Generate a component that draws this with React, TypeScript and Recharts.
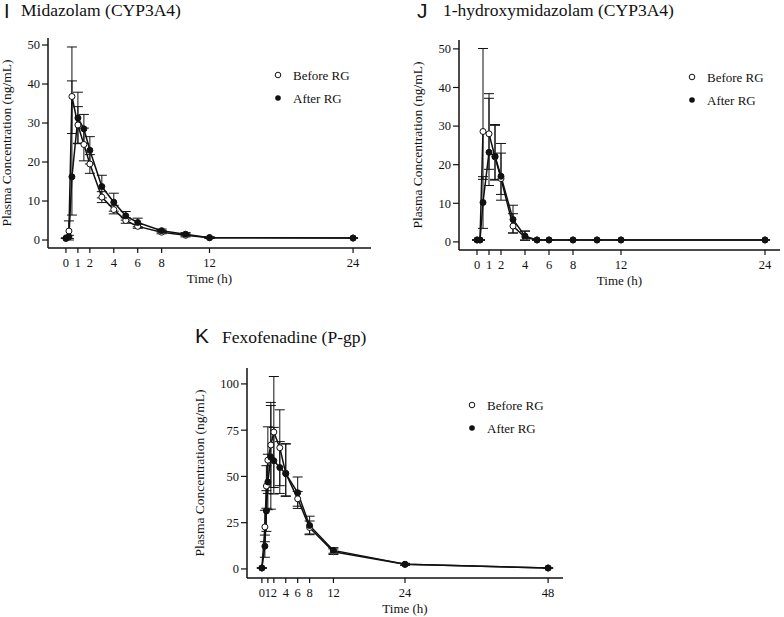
import React from 'react';
import { LineChart, Line, XAxis, YAxis, ErrorBar, Legend } from 'recharts';

// time points (h)
const midazolamTime = [0, 0.25, 0.5, 1, 1.5, 2, 3, 4, 5, 6, 8, 10, 12, 24];
const midazolamBefore = [0.5, 2.3, 36.8, 29.5, 24.5, 19.5, 11, 7.8, 5, 3.5, 2, 1.2, 0.6, 0.5];
const midazolamAfter = [0.4, 0.8, 16.2, 31.3, 28.5, 23, 13.7, 9.7, 6.2, 4.5, 2.4, 1.5, 0.6, 0.5];
const midazolamBeforeErr = [[0, 0], [2.3, 2.6], [9.5, 12.7], [4.7, 4.7], [4.2, 4.2], [2.4, 2.4], [1.4, 1.4], [1.1, 1.1], [0.7, 0.7], [0.5, 0.5], [0.4, 0.4], [0.4, 0.4], [0.2, 0.2], [0, 0]];
const midazolamAfterErr = [[0, 0], [0.4, 0.4], [9.8, 24.6], [6.6, 6.6], [3.7, 3.7], [3.5, 3.5], [2.9, 2.9], [2.3, 2.3], [1.1, 1.1], [1.1, 1.1], [0.4, 0.4], [0.4, 0.4], [0.2, 0.2], [0, 0]];

const hydroxyTime = [0, 0.25, 0.5, 1, 1.5, 2, 3, 4, 5, 6, 8, 10, 12, 24];
const hydroxyBefore = [0.5, 0.5, 28.6, 28, 22, 16.4, 4.1, 1.2, 0.5, 0.5, 0.5, 0.5, 0.5, 0.5];
const hydroxyAfter = [0.5, 0.5, 10.2, 23.2, 22.2, 17, 5.8, 1.5, 0.5, 0.5, 0.5, 0.5, 0.5, 0.5];
const hydroxyBeforeErr = [[0, 0], [0, 0], [12.4, 21.5], [9.2, 9.2], [6, 8.2], [4.1, 6.6], [1.8, 3.2], [0.8, 1.6], [0, 0], [0, 0], [0, 0], [0, 0], [0, 0], [0, 0]];
const hydroxyAfterErr = [[0, 0], [0, 0], [6.7, 6.7], [8.6, 15.2], [6, 8.2], [6.2, 8.5], [3.5, 3.7], [1, 1.3], [0, 0], [0, 0], [0, 0], [0, 0], [0, 0], [0, 0]];

const fexoTime = [0, 0.5, 0.75, 1, 1.5, 2, 3, 4, 6, 8, 12, 24, 48];
const fexoBefore = [0.5, 22.7, 44.8, 58.8, 67, 74, 65.5, 51.7, 37.9, 22.4, 9.3, 2.5, 0.5];
const fexoAfter = [0.5, 12.3, 31.3, 47, 60.3, 58.5, 54.8, 51.5, 41.2, 23.5, 10, 2.5, 0.5];
const fexoBeforeErr = [[0, 0], [8, 9], [12, 11], [18, 18], [23, 23], [30, 30], [20.5, 20.5], [12.5, 16], [4, 4], [3.5, 3.5], [1.5, 1.5], [0.5, 0.5], [0, 0]];
const fexoAfterErr = [[0, 0], [6, 6], [11, 11], [15, 15], [28, 28], [18, 18], [14, 14], [12, 16], [8.5, 8.5], [5, 5], [1.5, 1.5], [0.5, 0.5], [0, 0]];

const hourTicks = [0, 1, 2, 4, 6, 8, 12, 24];
const fexoHourTicks = [0, 1, 2, 4, 6, 8, 12, 24, 48];
const concTicks = [0, 10, 20, 30, 40, 50];
const fexoConcTicks = [0, 25, 50, 75, 100];

const SERIF = '"Liberation Serif", "Times New Roman", serif';
const SANS = '"Liberation Sans", Arial, sans-serif';
const INK = '#111';

const buildRows = (t: number[], b: number[], a: number[], be: number[][], ae: number[][]) =>
  t.map((time, i) => ({ t: time, before: b[i], after: a[i], beforeErr: be[i], afterErr: ae[i] }));

const XTick = (props: any) => (
  <text x={props.x} y={props.y} dy="0.71em" textAnchor="middle" fontFamily={SERIF} fontSize={12.5} fill={INK}>
    {props.payload.value}
  </text>
);

const YTick = (props: any) => (
  <text x={props.x} y={props.y} dy="0.35em" textAnchor="end" fontFamily={SERIF} fontSize={12.5} fill={INK}>
    {props.payload.value}
  </text>
);

const LegendBox = () => (
  <svg width={90} height={42} style={{ display: 'block' }}>
    <circle cx={6} cy={7} r={2.8} fill="#fff" stroke={INK} strokeWidth={1} />
    <text x={21} y={11.5} fontFamily={SERIF} fontSize={13} fill={INK}>Before RG</text>
    <circle cx={6} cy={30} r={2.8} fill={INK} />
    <text x={21} y={34.5} fontFamily={SERIF} fontSize={13} fill={INK}>After RG</text>
  </svg>
);

interface PanelProps {
  rows: any[];
  left: number;
  top: number;
  width: number;
  height: number;
  margin: { top: number; right: number; bottom: number; left: number };
  xDomain: [number, number];
  xTicks: number[];
  yDomain: [number, number];
  yTicks: number[];
  yLabelGap: number;
  legendLeft: number;
  legendTop: number;
}

const Panel: React.FC<PanelProps> = (p) => (
  <div style={{ position: 'absolute', left: p.left, top: p.top }}>
    <LineChart width={p.width} height={p.height} data={p.rows} margin={p.margin}>
      <XAxis
        dataKey="t"
        type="number"
        domain={p.xDomain}
        ticks={p.xTicks}
        interval={0}
        allowDataOverflow
        height={40}
        tickSize={5}
        tickMargin={5}
        axisLine={{ stroke: INK, strokeWidth: 1.5 }}
        tickLine={{ stroke: INK, strokeWidth: 1.2 }}
        tick={<XTick />}
        label={{
          content: (lp: any) => {
            const vb = lp.viewBox;
            return (
              <text x={vb.x + vb.width / 2} y={vb.y + 35} textAnchor="middle" fontFamily={SERIF} fontSize={13} fill={INK}>
                Time (h)
              </text>
            );
          },
        }}
      />
      <YAxis
        type="number"
        domain={p.yDomain}
        ticks={p.yTicks}
        interval={0}
        allowDataOverflow
        width={40}
        tickSize={6}
        tickMargin={2}
        axisLine={{ stroke: INK, strokeWidth: 1.5 }}
        tickLine={{ stroke: INK, strokeWidth: 1.2 }}
        tick={<YTick />}
        label={{
          content: (lp: any) => {
            const vb = lp.viewBox;
            const x = vb.x + vb.width - p.yLabelGap;
            const y = vb.y + vb.height / 2;
            return (
              <text x={x} y={y} transform={`rotate(-90, ${x}, ${y})`} textAnchor="middle" fontFamily={SERIF} fontSize={13.5} fill={INK}>
                Plasma Concentration (ng/mL)
              </text>
            );
          },
        }}
      />
      <Legend
        layout="vertical"
        align="center"
        verticalAlign="middle"
        wrapperStyle={{ left: p.legendLeft, top: p.legendTop, width: 90, height: 42 }}
        content={() => <LegendBox />}
      />
      <Line
        dataKey="before"
        name="Before RG"
        type="linear"
        stroke={INK}
        strokeWidth={1.5}
        dot={{ r: 3, fill: '#fff', stroke: INK, strokeWidth: 1 }}
        isAnimationActive={false}
      >
        <ErrorBar dataKey="beforeErr" direction="y" width={5} stroke={INK} strokeWidth={1} isAnimationActive={false} />
      </Line>
      <Line
        dataKey="after"
        name="After RG"
        type="linear"
        stroke={INK}
        strokeWidth={1.5}
        dot={{ r: 3, fill: INK, stroke: INK, strokeWidth: 1 }}
        isAnimationActive={false}
      >
        <ErrorBar dataKey="afterErr" direction="y" width={5} stroke={INK} strokeWidth={1} isAnimationActive={false} />
      </Line>
    </LineChart>
  </div>
);

export default function App() {
  const midazolam = buildRows(midazolamTime, midazolamBefore, midazolamAfter, midazolamBeforeErr, midazolamAfterErr);
  const hydroxy = buildRows(hydroxyTime, hydroxyBefore, hydroxyAfter, hydroxyBeforeErr, hydroxyAfterErr);
  const fexo = buildRows(fexoTime, fexoBefore, fexoAfter, fexoBeforeErr, fexoAfterErr);

  return (
    <div style={{ position: 'absolute', left: 0, top: 0, width: 784, height: 617, background: '#fff', overflow: 'hidden', fontFamily: SERIF }}>
      <svg width={784} height={617} style={{ position: 'absolute', left: 0, top: 0 }}>
        <text x={4} y={18} fontFamily={SANS} fontSize={20} fill={INK}>I</text>
        <text x={21} y={16} fontFamily={SERIF} fontSize={17.5} fill={INK}>Midazolam (CYP3A4)</text>
        <text x={417} y={18} fontFamily={SANS} fontSize={21} fill={INK}>J</text>
        <text x={443} y={16} fontFamily={SERIF} fontSize={17.5} fill={INK}>1-hydroxymidazolam (CYP3A4)</text>
        <text x={195} y={343} fontFamily={SANS} fontSize={21} fill={INK}>K</text>
        <text x={222} y={342.5} fontFamily={SERIF} fontSize={17.5} fill={INK}>Fexofenadine (P-gp)</text>
      </svg>

      <Panel
        rows={midazolam}
        left={0}
        top={0}
        width={384}
        height={300}
        margin={{ top: 38, right: 13, bottom: 12, left: 8 }}
        xDomain={[-1.5, 25.5]}
        xTicks={hourTicks}
        yDomain={[-2.05, 51.8]}
        yTicks={concTicks}
        yLabelGap={37.5}
        legendLeft={272}
        legendTop={68}
      />
      <Panel
        rows={hydroxy}
        left={392}
        top={0}
        width={392}
        height={300}
        margin={{ top: 40, right: 4, bottom: 10, left: 27 }}
        xDomain={[-1.5, 25.25]}
        xTicks={hourTicks}
        yDomain={[-2.1, 52.3]}
        yTicks={concTicks}
        yLabelGap={37}
        legendLeft={293.5}
        legendTop={69.5}
      />
      <Panel
        rows={fexo}
        left={180}
        top={300}
        width={420}
        height={317}
        margin={{ top: 68, right: 37, bottom: -1, left: 27 }}
        xDomain={[-2.5, 50.5]}
        xTicks={fexoHourTicks}
        yDomain={[-4.9, 108.6]}
        yTicks={fexoConcTicks}
        yLabelGap={43}
        legendLeft={285.5}
        legendTop={97.5}
      />
    </div>
  );
}
